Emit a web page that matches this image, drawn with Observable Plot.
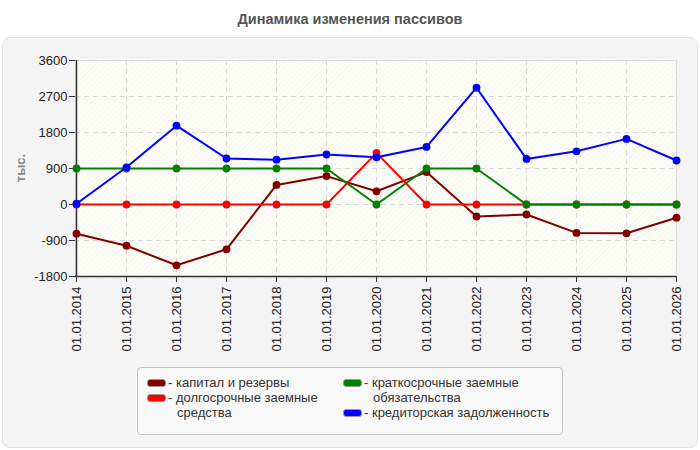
<!DOCTYPE html>
<html><head><meta charset="utf-8">
<script src="https://cdn.jsdelivr.net/npm/d3@7"></script>
<script src="https://cdn.jsdelivr.net/npm/@observablehq/plot@0.6"></script>
<style>
body{margin:0;background:#fff;font-family:"Liberation Sans",Arial,sans-serif;}
#wrap{position:relative;width:700px;height:450px;overflow:hidden;}
#title{position:absolute;left:0;top:11px;width:700px;text-align:center;font-weight:bold;font-size:14.5px;color:#555;}
#panel{position:absolute;left:2px;top:37px;width:694px;height:409px;background:#f4f4f4;border:1px solid #e2e2e2;border-radius:8px;}
#chart{position:absolute;left:0;top:0;}
#ylab{position:absolute;left:20px;top:168px;transform:translate(-50%,-50%) rotate(-90deg);font-weight:bold;font-size:13px;color:#888;white-space:nowrap;}
#legend{position:absolute;left:137px;top:367px;width:424px;height:66px;background:#f8f8f8;border:1px solid #c4c4c4;border-radius:4px;font-size:13px;color:#333;}
.sw{position:absolute;width:17px;height:6px;border:1px solid #999;border-radius:3px;}
.lt{position:absolute;line-height:15px;white-space:nowrap;}
</style></head>
<body>
<div id="wrap">
  <div id="title">Динамика изменения пассивов</div>
  <div id="panel"></div>
  <div id="chart"></div>
  <div id="ylab">тыс.</div>
  <div id="legend"></div>
</div>
<script>
const dates = ["01.01.2014","01.01.2015","01.01.2016","01.01.2017","01.01.2018","01.01.2019","01.01.2020","01.01.2021","01.01.2022","01.01.2023","01.01.2024","01.01.2025","01.01.2026"];
const capital   = [-730,-1030,-1520,-1120,490,710,330,810,-300,-250,-710,-720,-330];
const longTerm  = [0,0,0,0,0,0,1290,0,0,0,0,0,0];
const shortTerm = [900,900,900,900,900,900,0,900,900,0,0,0,0];
const payables  = [20,930,1970,1150,1120,1250,1180,1440,2920,1140,1330,1640,1100];
const yTicks = [-1800,-900,0,900,1800,2700,3600];
const seriesNames = ["капитал и резервы","долгосрочные заемные средства","краткосрочные заемные обязательства","кредиторская задолженность"];
const seriesColors = ["#800000","#ff0000","#008000","#0000ff"];
const seriesValues = [capital,longTerm,shortTerm,payables];

const series = seriesValues.map((vals,i)=>({
  name: seriesNames[i], color: seriesColors[i],
  data: dates.map((d,j)=>({date:d, value:vals[j]}))
}));

const marks = [
  Plot.frame({fill:"url(#hatch)", stroke:"#dcdcdc"}),
  Plot.gridX(dates,{stroke:"#d9d9d9", strokeOpacity:1, strokeDasharray:"5,4"}),
  Plot.gridY(yTicks,{stroke:"#d9d9d9", strokeOpacity:1, strokeDasharray:"5,4"}),
  Plot.axisX({ticks:dates, tickRotate:-90, tickSize:6, tickPadding:4, stroke:"#333", fill:"#222", label:null}),
  Plot.axisY({ticks:yTicks, tickFormat:d=>String(d), tickSize:6, tickPadding:2, stroke:"#333", fill:"#222", label:null}),
  Plot.ruleY([-1800],{stroke:"#333", strokeWidth:1.5}),
  Plot.ruleX([dates[0]],{stroke:"#333", strokeWidth:1.5})
];
series.forEach(s=>{
  marks.push(Plot.line(s.data,{x:"date", y:"value", stroke:s.color, strokeWidth:2}));
  marks.push(Plot.dot(s.data,{x:"date", y:"value", fill:s.color, r:3.9}));
});

const chart = Plot.plot({
  width:700, height:360,
  marginTop:60, marginLeft:75, marginRight:24, marginBottom:84,
  x:{type:"point", domain:dates, padding:0},
  y:{domain:[-1800,3600]},
  style:{fontSize:"13px", fontFamily:"'Liberation Sans',Arial,sans-serif", background:"transparent", color:"#222", overflow:"visible"},
  marks
});
// hatch pattern
const ns = "http://www.w3.org/2000/svg";
const defs = document.createElementNS(ns,"defs");
defs.innerHTML = '<pattern id="hatch" patternUnits="userSpaceOnUse" width="4" height="4" patternTransform="rotate(45)"><rect width="4" height="4" fill="#fdfdf8"/><line x1="0" y1="0" x2="0" y2="4" stroke="#f0f0ec" stroke-width="1"/></pattern>';
chart.insertBefore(defs, chart.firstChild);
document.getElementById("chart").appendChild(chart);

// legend
const leg = document.getElementById("legend");
const items = [
  {i:0, x:9,   y:11, lines:["- капитал и резервы"]},
  {i:1, x:9,   y:26, lines:["- долгосрочные заемные","средства"]},
  {i:2, x:205, y:11, lines:["- краткосрочные заемные","обязательства"]},
  {i:3, x:205, y:41, lines:["- кредиторская задолженность"]}
];
items.forEach(it=>{
  const sw = document.createElement("div");
  sw.className="sw"; sw.style.left=it.x+"px"; sw.style.top=(it.y+0)+"px"; sw.style.background=seriesColors[it.i];
  leg.appendChild(sw);
  it.lines.forEach((t,k)=>{
    const d=document.createElement("div");
    d.className="lt"; d.style.left=(it.x+21+(k>0?9:0))+"px"; d.style.top=(it.y-4+k*15)+"px";
    d.textContent=t; leg.appendChild(d);
  });
});
</script>
</body></html>
